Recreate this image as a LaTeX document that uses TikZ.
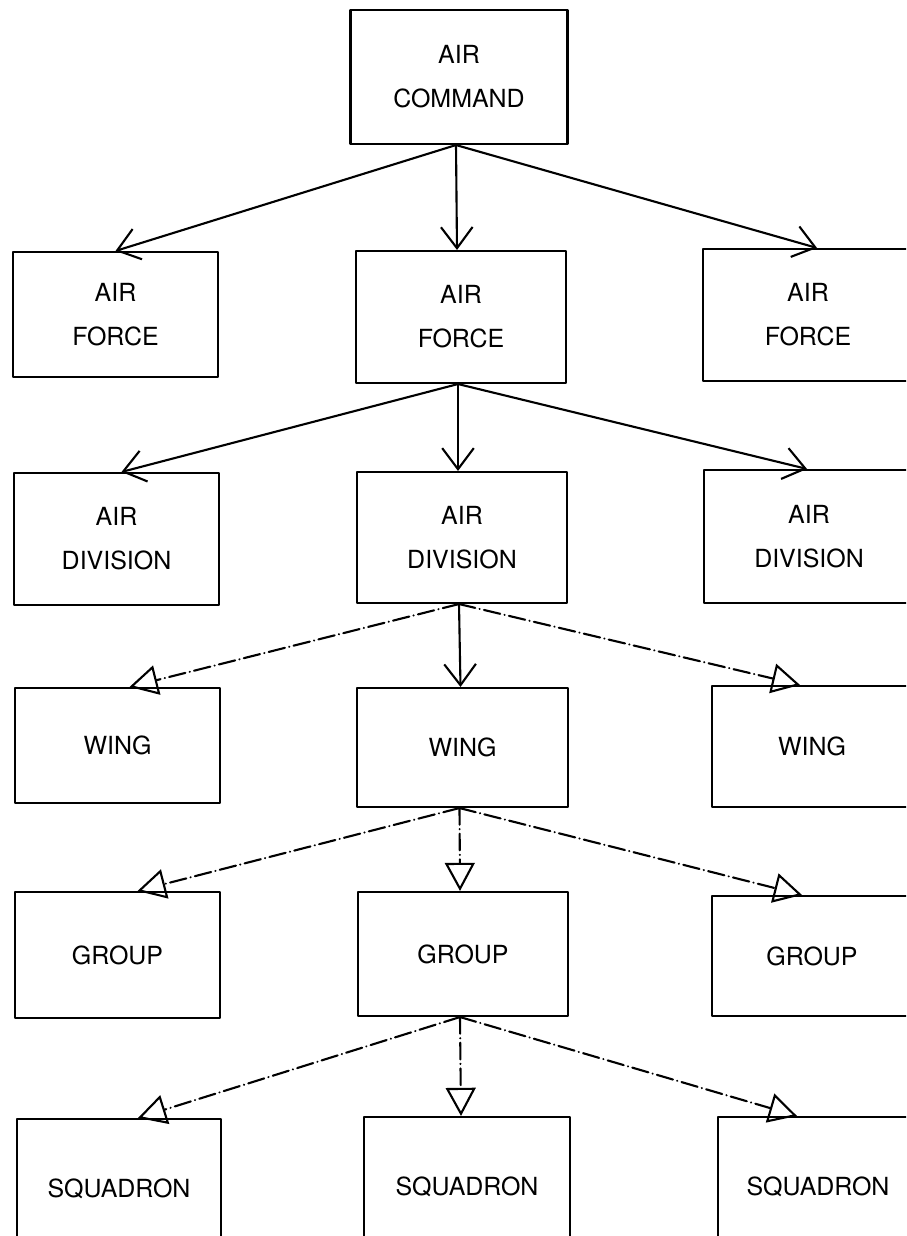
\documentclass[tikz,border=0pt]{standalone}
\usepackage{fontspec}
\setmainfont{TeX Gyre Heros}
\usetikzlibrary{arrows.meta}

\begin{document}
\begin{tikzpicture}[x=0.02cm, y=-0.02cm, line width=1.2pt, line join=round, line cap=round,
	unit/.style={draw, rectangle, align=center, inner sep=0pt, minimum width=4.2cm,
		font=\fontsize{14.2}{25}\selectfont},
	cmdline/.style={-{Straight Barb[length=12pt, width=18pt]}},
	subline/.style={-{Triangle[open, length=16pt, width=17pt]},
		dash pattern=on 9.5pt off 2.5pt on 0.1pt off 2.5pt}]
	\useasboundingbox (0,0) rectangle (906,1236);
	\clip (0,0) rectangle (906,1236);
	% top
	\node[unit, minimum width=4.34cm, minimum height=2.68cm] (cmd) at (459,77) {AIR\\COMMAND};
	% air forces
	\node[unit, minimum width=4.1cm, minimum height=2.5cm] (af1) at (115.5,314.5) {AIR\\FORCE};
	\node[unit, minimum height=2.64cm] (af2) at (461,317) {AIR\\FORCE};
	\node[unit, minimum height=2.64cm] (af3) at (808,315) {AIR\\FORCE};
	% air divisions
	\node[unit, minimum width=4.1cm, minimum height=2.64cm] (ad1) at (116.5,539) {AIR\\DIVISION};
	\node[unit, minimum height=2.62cm] (ad2) at (462,537.5) {AIR\\DIVISION};
	\node[unit, minimum height=2.66cm] (ad3) at (809,536.5) {AIR\\DIVISION};
	% wings
	\node[unit, minimum width=4.1cm, minimum height=2.3cm] (wg1) at (117.5,745.5) {WING};
	\node[unit, minimum width=4.22cm, minimum height=2.38cm] (wg2) at (462.5,747.5) {WING};
	\node[unit, minimum width=4.0cm, minimum height=2.42cm] (wg3) at (812,746.5) {WING};
	% groups
	\node[unit, minimum width=4.1cm, minimum height=2.52cm] (gp1) at (117.5,955) {GROUP};
	\node[unit, minimum height=2.48cm] (gp2) at (463,954) {GROUP};
	\node[unit, minimum width=4.0cm, minimum height=2.4cm] (gp3) at (812,956) {GROUP};
	% squadrons
	\node[unit, minimum width=4.08cm, minimum height=2.8cm] (sq1) at (119,1189) {SQUADRON};
	\node[unit, minimum width=4.12cm, minimum height=2.8cm] (sq2) at (467,1187) {SQUADRON};
	\node[unit, minimum width=4.0cm, minimum height=2.8cm] (sq3) at (818,1187) {SQUADRON};
	% links
	\foreach \p/\c/\s in {cmd/af1/0, cmd/af2/-4, cmd/af3/9, af2/ad1/5, af2/ad2/-4, af2/ad3/-2, ad2/wg2/-2}
	\draw[cmdline] ([xshift=-3*0.02cm]\p.south) -- ([xshift=\s*0.02cm]\c.north);
	\foreach \p/\c/\s in {ad2/wg1/12, ad2/wg3/-12, wg2/gp1/20, wg2/gp2/-3, wg2/gp3/-10,
		gp2/sq1/19, gp2/sq2/-6, gp2/sq3/-21}
	\draw[subline] ([xshift=-3*0.02cm]\p.south) -- ([xshift=\s*0.02cm]\c.north);
\end{tikzpicture}
\end{document}
